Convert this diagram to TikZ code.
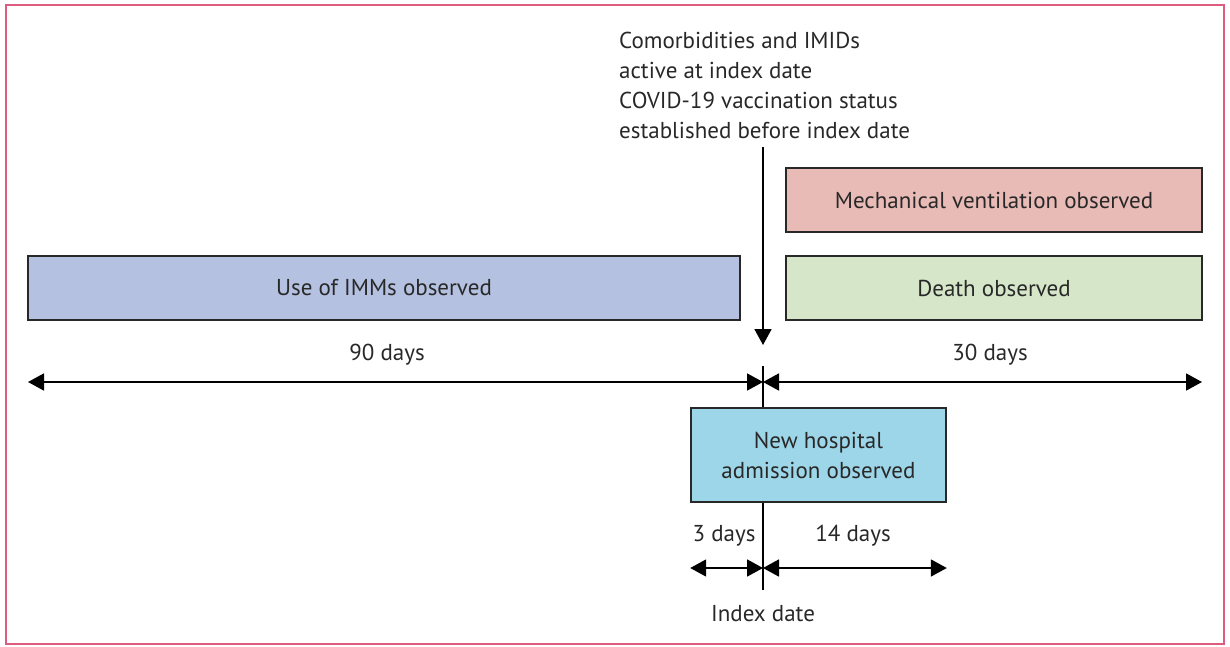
\documentclass[tikz,border=0pt]{standalone}
\usepackage{fontspec}
\setmainfont{PT Sans}
\usepackage{tikz}
\usetikzlibrary{arrows.meta, positioning, calc}
\definecolor{frameRose}{RGB}{222, 92, 128}
\definecolor{immBlue}{RGB}{181, 193, 224}
\definecolor{ventRose}{RGB}{232, 187, 182}
\definecolor{deathGreen}{RGB}{214, 230, 200}
\definecolor{admitCyan}{RGB}{157, 214, 232}
\definecolor{inkGray}{RGB}{40, 40, 40}

\begin{document}
\begin{tikzpicture}[x=1pt, y=-1pt, >={Triangle[length=16pt, width=17pt]},
    period/.style={draw=inkGray, line width=1.6pt, minimum height=64pt, inner sep=0pt, font=\fontsize{23}{30}\selectfont, text=inkGray},
    span/.style={<->, line width=1.8pt, color=black},
    daylabel/.style={font=\fontsize{23}{30}\selectfont, text=inkGray, inner sep=0pt}]
    \useasboundingbox (0,0) rectangle (1230,646);

    % Frame
    \draw[frameRose, line width=2pt] (6,5) rectangle (1224,644);

    % Key time points
    \coordinate (idxTop) at (763, 366);
    \coordinate (idxMid) at (763, 382);
    \coordinate (idxLow) at (763, 568);
    \coordinate (idxEnd) at (763, 590);
    \coordinate (obsStart) at (28, 382);
    \coordinate (obsEnd) at (1202, 382);
    \coordinate (arrTip) at (763, 345);

    % Observation windows
    \node[period, fill=immBlue, minimum width=712pt] (imm) at (384, 288) {Use of IMMs observed};
    \node[period, fill=ventRose, minimum width=416pt] (vent) at (994, 200) {Mechanical ventilation observed};
    \node[period, fill=deathGreen, minimum width=416pt] (death) at (994, 288) {Death observed};
    \node[period, fill=admitCyan, minimum width=255pt, minimum height=94pt, align=center] (admit) at (818.5, 455) {New hospital\\admission observed};

    % Covariates at index date
    \node[daylabel, anchor=north west, align=left] (info) at (619, 32) {Comorbidities and IMIDs\\active at index date\\COVID-19 vaccination status\\established before index date};
    \draw[->, line width=1.8pt] (info.south -| arrTip) ++(0,8) -- (arrTip);

    % Index date line
    \draw[line width=1.8pt] (idxTop) -- (admit.north -| idxTop);
    \draw[line width=1.8pt] (admit.south -| idxEnd) -- (idxEnd);

    % Day spans
    \draw[span] (obsStart) -- (idxMid);
    \draw[span] (idxMid) -- (obsEnd);
    \draw[span] (admit.south west |- idxLow) -- (idxLow);
    \draw[span] (idxLow) -- (admit.south east |- idxLow);

    \node[daylabel] (d90) at (387, 355) {90 days};
    \node[daylabel] (d30) at (990, 355) {30 days};
    \node[daylabel] (d3) at (724, 536) {3 days};
    \node[daylabel] (d14) at (853, 536) {14 days};
    \node[daylabel] (idxLabel) at (763, 614) {Index date};
\end{tikzpicture}
\end{document}
